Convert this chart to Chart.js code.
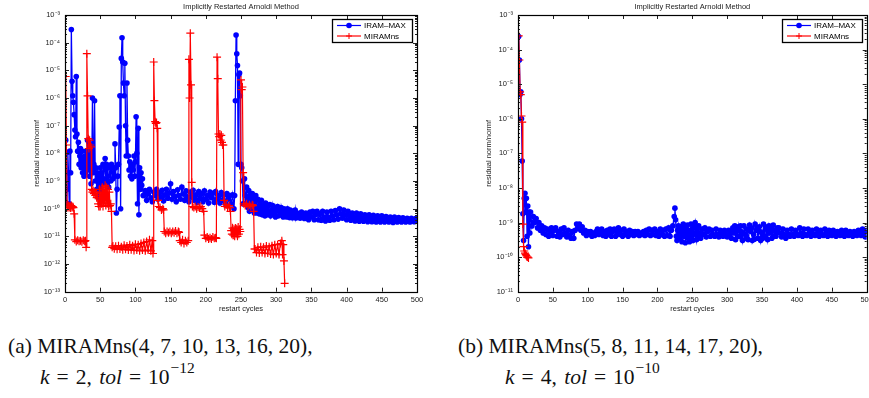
<!DOCTYPE html>
<html>
<head>
<meta charset="utf-8">
<script src="https://cdn.jsdelivr.net/npm/chart.js@4.4.1/dist/chart.umd.min.js"></script>
<style>
  html, body { margin: 0; padding: 0; background: #fff; }
  body { width: 869px; height: 398px; position: relative; overflow: hidden; }
  canvas { position: absolute; top: 0; }
  #chartA { left: 0; }
  #chartB { left: 430px; }
  .cap {
    position: absolute;
    font-family: "Liberation Serif", "DejaVu Serif", serif;
    font-size: 21.5px;
    line-height: 1;
    white-space: nowrap;
    color: #111;
  }
  .cap .eq { margin: 0 7px; }
  .cap .cm { margin-right: 2px; }
  .cap sup { font-size: 15.5px; position: relative; top: -3px; margin-left: 1px; }
</style>
</head>
<body>
<canvas id="chartA" width="430" height="320"></canvas>
<canvas id="chartB" width="460" height="320"></canvas>

<div class="cap" style="left:8px; top:336px">(a) MIRAMns(4, 7, 10, 13, 16, 20),</div>
<div class="cap" style="left:40px; top:363px"><i>k</i><span class="eq">=</span><span class="cm">2,</span> <i>tol</i><span class="eq">=</span>10<sup>−12</sup></div>
<div class="cap" style="left:458px; top:336px">(b) MIRAMns(5, 8, 11, 14, 17, 20),</div>
<div class="cap" style="left:505px; top:363px"><i>k</i><span class="eq">=</span><span class="cm">4,</span> <i>tol</i><span class="eq">=</span>10<sup>−10</sup></div>

<script>
// =============================================
// DATA : [restart cycle, residual norm/normf]
// =============================================

const seriesNames = ['IRAM–MAX', 'MIRAMns'];
const chartTitle = 'Implicitly Restarted Arnoldi Method';
const xTitle = 'restart cycles';
const yTitle = 'residual norm/normf';

// (a) MIRAMns(4,7,10,13,16,20), k = 2, tol = 1e-12
const iramA = [
  [0,2e-9],[1,3e-8],[2,1.5e-10],[3,5e-10],[4,1.1e-8],[5,2e-9],[6,1.5e-10],[7,1.2e-8],[8,2e-9],
  [9,3e-4],[10,4e-6],[11,1.2e-6],[12,7e-7],[13,2.5e-7],[14,7e-8],[15,4e-8],[16,6e-6],[17,5e-8],
  [18,1.2e-8],[19,2.5e-8],[20,4e-9],[21,8e-9],[22,1.5e-8],[23,3e-9],[24,1.2e-8],[25,2e-9],
  [26,6e-9],[27,1.5e-9],[28,8e-9],[29,2e-9],[30,1.2e-8],[31,3e-9],[32,3e-8],[33,2.5e-9],
  [34,2.5e-8],[35,1.5e-9],[36,2e-8],[37,8e-10],[38,3e-9],[39,1e-6],[40,2e-9],[41,4e-9],
  [42,8e-7],[43,1e-9],[44,3e-9],[45,5e-10],[46,2e-9],[47,2.6e-10],[48,1.5e-9],[49,6e-10],
  [50,3e-9],[51,5e-10],[52,2e-9],[53,8e-10],[54,4e-9],[55,1.2e-9],[57,6.5e-9],[58,1e-9],
  [59,4e-9],[60,8e-10],[61,3e-9],[62,6e-10],[64,3.5e-9],[65,1e-9],[66,4e-9],[68,1.2e-9],
  [69,3e-9],[70,1.5e-9],[71,2.2e-8],[72,3e-9],[73,7e-11],[74,5e-10],[75,1.5e-9],[76,4e-9],
  [77,9e-8],[78,1.2e-6],[79,1e-10],[80,2.7e-5],[81,1.5e-4],[82,2e-5],[83,3.5e-6],[84,1.2e-6],
  [85,1.8e-5],[86,1e-7],[87,8e-9],[88,3.5e-6],[89,3e-8],[90,8e-9],[91,2.5e-9],[92,5e-9],
  [93,1.5e-9],[94,3e-9],[95,1.2e-9],[96,4e-9],[97,2.5e-9],[98,8e-9],[99,1.5e-9],[100,5e-9],
  [101,2.1e-7],[102,1e-8],[103,1.5e-10],[104,8e-8],[105,6e-11],[106,3e-9],[107,5e-10],
  [108,2e-9],[109,7e-10],[110,1.2e-9],[111,3e-10],
  [112,3e-10],[114,4.5e-10],[116,2e-10],[118,3.5e-10],[120,5e-10],[122,2.5e-10],[124,1.8e-10],
  [126,4e-10],[128,3e-10],[130,5e-10],[132,2.2e-10],[134,3.8e-10],[136,2.6e-10],[138,4.6e-10],
  [140,1.9e-10],[142,3.2e-10],[144,5e-10],[146,2.4e-10],[148,3.6e-10],[150,8e-10],[152,2.2e-10],
  [154,4.2e-10],[156,2.8e-10],[158,1.8e-10],[160,4.8e-10],[162,3e-10],[164,2.2e-10],[166,6e-10],
  [168,3.4e-10],[170,2e-10],[172,4.4e-10],[174,2.7e-10],[176,1.8e-10],[178,4e-10],[180,2.6e-10],
  [182,4.6e-10],[184,2e-10],[186,3.2e-10],[188,1.7e-10],[190,4.2e-10],[192,2.4e-10],
  [194,3.5e-10],[196,1.8e-10],[198,4.4e-10],[200,2.2e-10],[202,3e-10],[204,1.6e-10],[206,4e-10],
  [208,2.5e-10],[210,3.6e-10],[212,1.7e-10],[214,4.2e-10],[216,2.2e-10],[218,3e-10],
  [220,1.6e-10],[222,3.8e-10],[224,2e-10],[226,3.2e-10],[228,1.5e-10],[230,3.5e-10],
  [232,2.2e-10],[234,3e-10],[236,1.5e-10],[238,3.2e-10],[240,1e-10],[241,3e-10],
  [242,8e-7],[243,1.9e-4],[244,4e-5],[245,1.5e-5],[246,4e-9],[247,7e-6],[248,8e-6],
  [249,1.2e-6],[250,4e-9],[251,3e-9],[252,1e-9],[253,1.5e-10],
  [254,1.5e-10],[255,1.2e-9],[256,3e-10],[257,1.5e-10],[258,6e-10],[259,2.2e-10],[260,1.1e-10],
  [261,4.5e-10],[262,8e-11],[263,3e-10],[264,1.6e-10],[265,9e-11],[266,3.5e-10],[267,1.3e-10],
  [268,2.5e-10],[269,7e-11],[270,1.8e-10],[271,3e-10],[272,1e-10],[273,7e-11],[274,2.2e-10],
  [275,1.2e-10],[276,6.5e-11],[277,1.6e-10],[278,9e-11],[279,2e-10],[280,6e-11],[282,1.3e-10],
  [283,8e-11],[284,5.5e-11],[285,1.6e-10],[286,1e-10],[287,6e-11],[288,1.2e-10],[290,7.5e-11],
  [291,1.4e-10],[292,5.5e-11],[294,9e-11],[295,1.3e-10],[296,6.5e-11],[298,1.1e-10],[299,5e-11],
  [300,8e-11],[302,1.2e-10],[303,5.5e-11],[304,9e-11],[306,6e-11],[307,1.1e-10],[308,7.5e-11],
  [310,5e-11],[311,1e-10],[312,6.5e-11],[314,8.5e-11],[315,5e-11],[316,1e-10],[318,6e-11],
  [319,4.8e-11],[320,9e-11],[322,6.5e-11],[323,4.7e-11],[324,8e-11],[326,5.5e-11],[327,9e-11],
  [328,4.6e-11],[330,7e-11],
  [332,6e-11],[334,4.5e-11],[336,7.5e-11],[338,5.5e-11],[340,4.4e-11],[342,7e-11],[344,5.5e-11],
  [346,4e-11],[348,7.5e-11],[350,5e-11],[352,8e-11],[354,4e-11],[356,6e-11],[358,8e-11],
  [360,4e-11],[362,6.5e-11],[364,3.8e-11],[366,8e-11],[368,5e-11],[370,3.6e-11],[372,7.5e-11],
  [374,5e-11],[376,3.8e-11],[378,8e-11],[380,5.5e-11],[382,4e-11],[384,8.5e-11],[386,6e-11],
  [388,4.2e-11],[390,1e-10],[392,6.5e-11],[394,4.5e-11],[396,9e-11],[398,6e-11],[400,4e-11],
  [402,8e-11],[404,5.5e-11],[406,3.8e-11],[408,7e-11],[410,5e-11],[412,3.6e-11],[414,7e-11],
  [416,4.8e-11],[418,3.5e-11],[420,6.5e-11],[422,4.5e-11],[424,3.5e-11],[426,6e-11],
  [428,4.5e-11],[430,3.4e-11],[432,6e-11],[434,4.2e-11],[436,3.4e-11],[438,5.8e-11],
  [440,4.2e-11],[442,3.3e-11],[444,5.5e-11],[446,4e-11],[448,3.3e-11],[450,5.5e-11],[452,4e-11],
  [454,3.3e-11],[456,5.2e-11],[458,4e-11],[460,3.3e-11],[462,5e-11],[464,3.8e-11],[466,3.2e-11],
  [468,5e-11],[470,3.8e-11],[472,3.3e-11],[474,4.8e-11],[476,3.7e-11],[478,3.3e-11],
  [480,4.7e-11],[482,3.7e-11],[484,3.3e-11],[486,4.5e-11],[488,3.6e-11],[490,3.3e-11],
  [492,4.5e-11],[494,3.6e-11],[496,3.4e-11],[498,4.4e-11],[500,3.7e-11]
];

const miramA = [
  [1,6e-6],[2,2e-8],[3,1.5e-10],[4,1.1e-10],[5,1.3e-10],[6,1.1e-10],[7,1.25e-10],[8,1.05e-10],
  [9,1.3e-10],[10,1.1e-10],[11,1.2e-10],[12,1.1e-10],[13,6.5e-11],[14,7.5e-12],[16,6.5e-12],
  [18,7.2e-12],[20,6.6e-12],[22,7e-12],[24,6.4e-12],[26,7.2e-12],[28,6.6e-12],[29,7e-12],
  [30,4e-12],[31,4e-5],[32,1.2e-6],[33,3.4e-8],[34,1.5e-8],[35,3e-8],[36,2e-8],[37,1.7e-8],
  [38,5e-10],[39,4e-10],[40,4.5e-10],[41,3.5e-10],[42,4e-10],[43,3e-10],[44,3.5e-10],
  [45,2.5e-10],[46,3e-10],[47,1.5e-10],[48,1.2e-10],[49,5e-10],[50,1.2e-10],[51,4e-10],
  [52,1.5e-10],[53,6e-10],[54,1.2e-10],[55,5e-10],[56,2e-10],[57,7e-10],[58,1.3e-10],
  [59,6e-10],[60,1.5e-10],[61,5e-10],[62,1.2e-10],[63,4e-10],[64,1.3e-10],[65,1.5e-10],
  [66,8e-11],[67,4e-12],[68,4.5e-12],[70,3.6e-12],[72,4.4e-12],[74,3.4e-12],[76,4.6e-12],
  [78,3.5e-12],[80,4.2e-12],[82,3.3e-12],[84,4.8e-12],[86,3.4e-12],[88,4.5e-12],[90,3.2e-12],
  [92,5e-12],[94,3.3e-12],[96,4.6e-12],[98,3.1e-12],[100,5.2e-12],[102,3.2e-12],[104,5e-12],
  [106,3e-12],[108,5.5e-12],[110,3.2e-12],[112,6e-12],[114,3e-12],[116,6.5e-12],[118,3.2e-12],
  [120,7.5e-12],[122,3e-12],[124,7e-12],[125,2.4e-12],[126,2e-5],[127,8e-7],[128,1.4e-7],
  [129,1.2e-7],[130,1.3e-7],[131,8e-8],[132,2e-10],[133,1.2e-10],[135,1.1e-10],[137,9e-11],
  [139,1e-10],[140,9e-11],[141,1.5e-11],[143,1.3e-11],[145,1.5e-11],[147,1.35e-11],
  [149,1.5e-11],[151,1.3e-11],[153,1.5e-11],[155,1.35e-11],[157,1.55e-11],[159,1.3e-11],
  [161,1.5e-11],[162,1.4e-11],[163,7e-12],[165,6e-12],[167,7.5e-12],[169,5.5e-12],[171,7e-12],
  [173,6e-12],[175,7e-12],[176,2.5e-5],[177,1e-6],[178,2.2e-4],[179,3e-6],[180,9e-10],
  [181,1.2e-10],[183,1.1e-10],[185,1.2e-10],[187,1e-10],[189,1.15e-10],[191,1.05e-10],
  [193,1.2e-10],[195,1e-10],[197,8e-11],[198,1.1e-11],[200,8.5e-12],[202,9.5e-12],[204,8e-12],
  [206,9e-12],[208,8e-12],[210,9.5e-12],[212,8.5e-12],[214,9e-12],[215,8.5e-12],[216,3e-5],
  [217,5e-6],[218,5e-8],[219,4e-8],[220,5e-8],[221,3e-8],[222,4.5e-8],[223,2.5e-8],[224,2e-8],
  [225,2e-8],[226,2e-10],[227,1.2e-10],[229,1.4e-10],[231,1.1e-10],[233,1.3e-10],[234,1.1e-10],
  [235,8e-11],[236,1.6e-11],[237,1.2e-11],[238,2e-11],[239,1.1e-11],[240,1.8e-11],[241,1e-11],
  [242,2e-11],[243,1.2e-11],[244,1.9e-11],[245,1e-11],[246,2.2e-11],[247,1.2e-11],
  [248,1.8e-11],[249,1.5e-11],[250,4.5e-6],[251,2e-6],[252,2.5e-6],[253,2e-9],[254,1.5e-10],
  [256,1.3e-10],[258,1.5e-10],[260,1.2e-10],[262,1.4e-10],[264,1.2e-10],[266,1.4e-10],
  [267,1.3e-10],[268,8e-11],[269,3.5e-12],[270,3.5e-12],[272,2.6e-12],[274,4e-12],[276,2.5e-12],
  [278,4.2e-12],[280,2.6e-12],[282,4e-12],[284,2.4e-12],[286,4.5e-12],[288,2.5e-12],
  [290,4.2e-12],[292,2.3e-12],[294,4.6e-12],[296,2.2e-12],[298,5e-12],[300,2.4e-12],
  [302,5e-12],[304,2.2e-12],[306,5.5e-12],[308,7e-12],[309,2.2e-12],[310,5e-12],
  [311,1.3e-12],[312,2e-13]
];

// (b) MIRAMns(5,8,11,14,17,20), k = 4, tol = 1e-10
const iramB = [
  [1,2.4e-4],[2,5e-5],[3,5e-6],[4,6e-6],[5,1e-6],[6,6e-8],[7,1.8e-9],[8,3e-10],[9,5e-9],
  [10,7e-9],[11,2e-9],[12,5e-9],[13,4e-10],[14,3e-9],[15,2e-10],[16,2e-9],[17,5e-10],
  [18,2e-9],[20,8e-10],[22,1.5e-9],[24,1e-9],[26,1.3e-9],[28,7e-10],[30,1e-9],[32,6e-10],
  [34,8e-10],[36,5e-10],[38,7e-10],[40,4.5e-10],[42,6.5e-10],[44,4e-10],[46,5.5e-10],
  [48,7e-10],[50,4.2e-10],[52,6e-10],[54,7e-10],[56,4e-10],[58,5.5e-10],[60,3.8e-10],
  [62,6.5e-10],[64,4.5e-10],[66,7e-10],[68,5e-10],[70,3.8e-10],[72,6e-10],[74,4.2e-10],
  [76,3.5e-10],[78,5.5e-10],[80,3.5e-10],[82,6e-10],[84,9e-10],[86,7e-10],[88,9e-10],
  [90,6e-10],[92,7.5e-10],[94,5e-10],[96,6e-10],[98,4.2e-10],[100,5.5e-10],[102,4.5e-10],
  [104,5.5e-10],[106,4e-10],[108,5e-10],[110,4.2e-10],[112,5.5e-10],[114,6.5e-10],[116,4.5e-10],
  [118,5.5e-10],[120,6.5e-10],[122,4.2e-10],[124,5.5e-10],[126,4e-10],[128,6e-10],[130,4.5e-10],
  [132,6.5e-10],[134,4e-10],[136,5.5e-10],[138,6.5e-10],[140,4e-10],[142,5.5e-10],[144,7e-10],
  [146,4.5e-10],[148,6e-10],[150,4e-10],[152,6.5e-10],[154,4.5e-10],[156,5.5e-10],[158,4e-10],
  [160,6e-10],[162,4.5e-10],[164,5.5e-10],[166,4.2e-10],[168,5.5e-10],[170,4.5e-10],
  [172,5.5e-10],[174,4.2e-10],[176,5e-10],[178,4.5e-10],[180,5.5e-10],[182,4.2e-10],[184,6e-10],
  [186,4.5e-10],[188,6.5e-10],[190,4.2e-10],[192,6e-10],[194,4.5e-10],[196,6.5e-10],
  [198,4.2e-10],[200,5.5e-10],[202,4e-10],[204,6.5e-10],[206,4.5e-10],[208,6e-10],[210,4e-10],
  [212,6.5e-10],[214,4.2e-10],[216,7e-10],[218,4e-10],[220,6e-10],[222,8e-10],[224,1.5e-9],
  [225,2.6e-9],[226,1.2e-9],
  [227,4e-10],[228,3e-10],[229,6e-10],[230,8e-10],[231,4.5e-10],[232,3.5e-10],[233,7.5e-10],
  [234,5e-10],[235,2.8e-10],[236,6e-10],[237,9e-10],[238,4e-10],[239,5.5e-10],[240,2.6e-10],
  [241,7e-10],[242,4.5e-10],[243,8.5e-10],[244,3.5e-10],[245,6e-10],[246,2.8e-10],[247,5e-10],
  [248,9e-10],[249,4e-10],[250,6.5e-10],[251,3e-10],[252,5e-10],[253,8e-10],[254,1e-9],
  [255,4.5e-10],[256,3.2e-10],[257,6.5e-10],[258,4e-10],[259,8e-10],[260,5e-10],[262,3.5e-10],
  [264,6.5e-10],[266,4.5e-10],[268,7e-10],[270,3.8e-10],[272,5.5e-10],[274,6.5e-10],[276,4e-10],
  [278,6e-10],[280,4.5e-10],[282,4e-10],[284,6.5e-10],[286,4.5e-10],[288,3.8e-10],[290,6e-10],
  [292,4.5e-10],[294,4e-10],[296,6e-10],[298,4.5e-10],[300,3.8e-10],[302,6e-10],[304,4.5e-10],
  [306,3.5e-10],[307,5.5e-10],[308,7e-10],[310,5e-10],[311,8e-10],[312,3.2e-10],[314,6e-10],
  [315,4e-10],[316,7.5e-10],[318,4e-10],[319,8e-10],[320,5.5e-10],[322,3e-10],[323,5e-10],
  [324,8e-10],[326,4.5e-10],[327,3.5e-10],[328,6.5e-10],[330,3.2e-10],[331,6e-10],
  [332,8.5e-10],[334,5.5e-10],[335,7e-10],[336,3e-10],[338,4.5e-10],[339,3.3e-10],[340,9e-10],
  [342,6e-10],[343,7e-10],[344,3.5e-10],[346,7.5e-10],[347,5.5e-10],[348,3e-10],[350,5e-10],
  [351,3.5e-10],[352,9e-10],[354,4e-10],[355,7.5e-10],[356,6.5e-10],[358,3.2e-10],[359,5e-10],
  [360,8e-10],[362,5e-10],[363,6.5e-10],[364,3.5e-10],[366,8.5e-10],[367,4e-10],[368,6e-10],
  [370,4e-10],[371,5.5e-10],[372,7e-10],
  [374,7e-10],[376,5e-10],[378,3.8e-10],[380,6.5e-10],[382,4.5e-10],[384,3.5e-10],[386,6e-10],
  [388,4.5e-10],[390,4e-10],[392,6.5e-10],[394,4.5e-10],[396,4e-10],[398,6e-10],[400,4.5e-10],
  [402,4.2e-10],[404,7e-10],[406,5e-10],[408,4e-10],[410,6.5e-10],[412,4.5e-10],[414,4.2e-10],
  [416,6.5e-10],[418,5e-10],[420,4e-10],[422,6e-10],[424,4.5e-10],[426,4.2e-10],[428,6.5e-10],
  [430,5e-10],[432,4e-10],[434,6e-10],[436,4.5e-10],[438,4.2e-10],[440,6.5e-10],[442,5e-10],
  [444,4e-10],[446,6e-10],[448,4.5e-10],[450,4.2e-10],[452,6e-10],[454,5e-10],[456,4e-10],
  [458,5.5e-10],[460,4.5e-10],[462,4.2e-10],[464,6e-10],[466,5e-10],[468,4e-10],[470,6e-10],
  [472,4.5e-10],[474,4.2e-10],[476,5.5e-10],[478,4.5e-10],[480,4e-10],[482,5.5e-10],
  [484,4.5e-10],[486,4.2e-10],[488,6e-10],[490,5e-10],[492,4.2e-10],[494,6.5e-10],[496,5e-10],
  [498,3.8e-10],[500,6e-10]
];

const miramB = [
  [1,2.5e-4],[2,5e-5],[3,6e-6],[4,5e-6],[5,1.2e-6],[6,8e-7],[7,9e-10],[8,2e-10],[9,1.5e-10],
  [10,1.3e-10],[11,1.2e-10],[12,1.1e-10],[13,1e-10],[14,1e-10],[15,9.5e-11]
];

// axis ranges and tick values
const xTicks = [0, 50, 100, 150, 200, 250, 300, 350, 400, 450, 500];
const decadesA = [1e-13, 1e-12, 1e-11, 1e-10, 1e-9, 1e-8, 1e-7, 1e-6, 1e-5, 1e-4, 1e-3];
const decadesB = [1e-11, 1e-10, 1e-9, 1e-8, 1e-7, 1e-6, 1e-5, 1e-4, 1e-3];

// =============================================
// CHART SETUP
// =============================================

const FONT = '"Liberation Sans", Arial, Helvetica, sans-serif';
const SUP = { '-': '⁻', '0': '⁰', '1': '¹', '2': '²', '3': '³', '4': '⁴',
              '5': '⁵', '6': '⁶', '7': '⁷', '8': '⁸', '9': '⁹' };

function powerLabel(v) {
    const e = String(Math.round(Math.log10(v)));
    return '10' + e.split('').map(c => SUP[c]).join('');
}

const toPoints = arr => arr.map(([x, y]) => ({ x, y }));

// Matlab-style box: frame, inward ticks on all sides, boxed legend top-right
const matlabBox = {
    id: 'matlabBox',
    afterDatasetsDraw(chart) {
        const { ctx, chartArea: a } = chart;
        const xs = chart.scales.x, ys = chart.scales.y;
        ctx.save();
        ctx.strokeStyle = '#222';
        ctx.lineWidth = 1;
        ctx.beginPath();
        const seg = (x1, y1, x2, y2) => { ctx.moveTo(x1, y1); ctx.lineTo(x2, y2); };
        xs.ticks.forEach(t => {
            const p = Math.round(xs.getPixelForValue(t.value)) + 0.5;
            seg(p, a.bottom, p, a.bottom - 4);
            seg(p, a.top, p, a.top + 4);
        });
        ys.ticks.forEach(t => {
            const p = Math.round(ys.getPixelForValue(t.value)) + 0.5;
            seg(a.left, p, a.left + 4, p);
            seg(a.right, p, a.right - 4, p);
            for (let k = 2; k < 10; k++) {
                const v = t.value * k;
                if (v >= ys.max * 0.999) break;
                const q = Math.round(ys.getPixelForValue(v)) + 0.5;
                seg(a.left, q, a.left + 2, q);
                seg(a.right, q, a.right - 2, q);
            }
        });
        ctx.stroke();

        ctx.strokeStyle = '#000';
        ctx.lineWidth = 1.2;
        ctx.strokeRect(Math.round(a.left) + 0.5, Math.round(a.top) + 0.5,
                       Math.round(a.right - a.left), Math.round(a.bottom - a.top));

        // legend
        const items = chart.data.datasets;
        ctx.font = '8px ' + FONT;
        const textW = Math.max(...items.map(d => ctx.measureText(d.label).width));
        const w = Math.round(33 + textW + 5), h = 23;
        const bx = Math.round(a.right - 5 - w), by = Math.round(a.top + 4);
        ctx.fillStyle = '#fff';
        ctx.fillRect(bx, by, w, h);
        ctx.strokeStyle = '#000';
        ctx.lineWidth = 1.3;
        ctx.strokeRect(bx + 0.5, by + 0.5, w, h);
        items.forEach((d, i) => {
            const cy = by + 6.5 + i * 10.5;
            ctx.strokeStyle = d.borderColor;
            ctx.lineWidth = 1.2;
            ctx.beginPath();
            ctx.moveTo(bx + 5, cy);
            ctx.lineTo(bx + 29, cy);
            ctx.stroke();
            const mx = bx + 17;
            const r = Math.min(d.pointRadius, 3);
            if (d.pointStyle === 'cross') {
                ctx.lineWidth = 1;
                ctx.beginPath();
                ctx.moveTo(mx - r, cy); ctx.lineTo(mx + r, cy);
                ctx.moveTo(mx, cy - r); ctx.lineTo(mx, cy + r);
                ctx.stroke();
            } else {
                ctx.fillStyle = d.pointBackgroundColor;
                ctx.beginPath();
                ctx.arc(mx, cy, r, 0, Math.PI * 2);
                ctx.fill();
            }
            ctx.fillStyle = '#000';
            ctx.textBaseline = 'middle';
            ctx.textAlign = 'left';
            ctx.fillText(d.label, bx + 32, cy + 0.5);
        });
        ctx.restore();
    }
};

function makeChart(id, iram, miram, decades, axisW, yTitlePad, padRight) {
    const ctx = document.getElementById(id).getContext('2d');
    return new Chart(ctx, {
        type: 'line',
        data: {
            datasets: [{
                label: seriesNames[0],
                data: toPoints(iram),
                borderColor: '#0000ff',
                backgroundColor: '#0000ff',
                pointBackgroundColor: '#0000ff',
                pointBorderColor: '#0000ff',
                borderWidth: 1.3,
                pointStyle: 'circle',
                pointRadius: 2.8,
                pointBorderWidth: 0,
                tension: 0,
                order: 1
            }, {
                label: seriesNames[1],
                data: toPoints(miram),
                borderColor: '#ff0000',
                backgroundColor: '#ff0000',
                pointBackgroundColor: '#ff0000',
                pointBorderColor: '#ff0000',
                borderWidth: 1.2,
                pointStyle: 'cross',
                pointRadius: 4,
                pointBorderWidth: 1.2,
                tension: 0,
                order: 0
            }]
        },
        options: {
            responsive: false,
            animation: false,
            devicePixelRatio: 1,
            events: [],
            layout: { padding: { left: 0, right: padRight, top: 0, bottom: 0 } },
            plugins: {
                legend: { display: false },
                tooltip: { enabled: false },
                title: {
                    display: true,
                    text: chartTitle,
                    fullSize: false,
                    color: '#222',
                    font: { family: FONT, size: 7.5, weight: 'normal' },
                    padding: { top: 2, bottom: 4 }
                }
            },
            scales: {
                x: {
                    type: 'linear',
                    min: 0,
                    max: 500,
                    afterBuildTicks: (axis) => { axis.ticks = xTicks.map(v => ({ value: v })); },
                    afterFit: (axis) => { axis.height = 28.3; },
                    grid: { display: false, drawTicks: false },
                    border: { display: false },
                    ticks: {
                        autoSkip: false,
                        maxRotation: 0,
                        padding: 4,
                        color: '#222',
                        font: { family: FONT, size: 7.5 }
                    },
                    title: {
                        display: true,
                        text: xTitle,
                        color: '#222',
                        font: { family: FONT, size: 7.5 },
                        padding: { top: 0, bottom: 6.5 }
                    }
                },
                y: {
                    type: 'logarithmic',
                    min: decades[0],
                    max: decades[decades.length - 1],
                    afterBuildTicks: (axis) => { axis.ticks = decades.map(v => ({ value: v, major: true })); },
                    afterFit: (axis) => { axis.width = axisW; },
                    grid: { display: false, drawTicks: false },
                    border: { display: false },
                    ticks: {
                        autoSkip: false,
                        padding: 5,
                        color: '#222',
                        font: { family: FONT, size: 7.5 },
                        callback: (value) => powerLabel(value)
                    },
                    title: {
                        display: true,
                        text: yTitle,
                        color: '#222',
                        font: { family: FONT, size: 7.5 },
                        padding: { top: yTitlePad, bottom: 0 }
                    }
                }
            }
        },
        plugins: [matlabBox]
    });
}

makeChart('chartA', iramA, miramA, decadesA, 65, 32.5, 13);
makeChart('chartB', iramB, miramB, decadesB, 88, 54.5, 23.3);
</script>
</body>
</html>
